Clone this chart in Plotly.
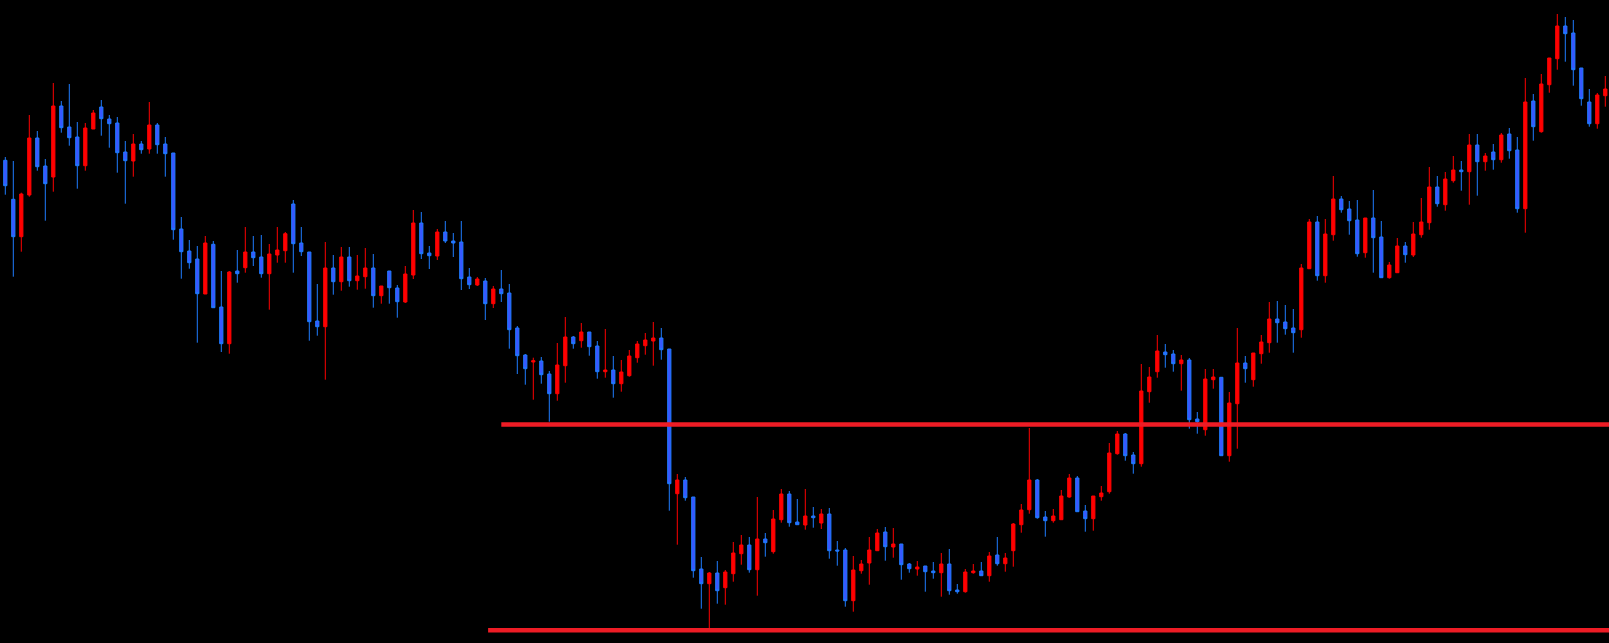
import plotly.graph_objects as go

# Price series (one value per candle)
opens = [482.7, 443.7, 406.3, 448, 505, 477, 466, 537, 516, 506,
         477.3, 514, 536, 524, 520, 491, 482, 499, 494, 518,
         499, 490, 414, 392, 384, 349, 398.7, 336, 299.3, 372,
         375.3, 391, 386, 369.3, 388, 392.3, 439, 400, 391, 322,
         316.3, 375, 361.3, 386, 362.3, 366.3, 375, 347.3, 372, 355,
         341, 368, 420, 390, 387, 411, 402, 401, 366, 358,
         362, 339.3, 354, 350, 315, 288, 281, 282, 269, 249.3,
         277.3, 306, 302.3, 311, 297, 271.3, 273, 259.3, 267.3, 285.3,
         297.3, 302, 305, 294, 149.3, 163, 146, 74, 59.3, 70,
         55.3, 69.3, 89.3, 98, 73.3, 104, 91.3, 123.3, 149, 121,
         118, 127, 120, 129, 93, 93, 42.3, 72.3, 80, 92.3,
         111, 96, 99, 79, 74, 77, 72, 70.3, 79, 53,
         51.3, 70.3, 72, 67.3, 88, 79.3, 92.3, 118.3, 133.3, 163,
         126, 122.3, 123.3, 146, 165, 132, 124.3, 146.3, 151.3, 189.3,
         209, 188, 179.3, 251.3, 271.3, 291, 289, 279.3, 283, 224,
         213.3, 263.3, 265.7, 187.3, 239.3, 280, 263.3, 289.3, 300.3, 324,
         321, 315, 313.3, 374.3, 421, 367.3, 408.3, 444, 434, 423,
         390.3, 425, 406, 365.3, 370.3, 397, 388, 408.3, 420.3, 456,
         438.3, 462.3, 473, 471.3, 498, 481.3, 491, 483.3, 509, 493,
         434.3, 542, 511.3, 558.3, 584.3, 617, 610, 575, 541, 519.3,
         547.3]

highs = [486, 482, 450.3, 528, 512, 484, 560, 542, 559, 521,
         520, 533, 543, 528, 526, 502, 509, 502, 541, 520,
         506, 490, 426, 403, 397, 407, 402, 372, 372, 393,
         416, 407, 408, 399, 416, 411, 443, 416, 391, 359,
         401, 388, 396, 396, 388, 395, 389, 357, 372, 358,
         377, 433, 431, 397, 414, 422, 410, 422, 375, 366,
         365, 357, 373, 359, 317, 289, 285.3, 286, 272, 300,
         326, 307, 320, 311, 302, 314, 287, 283, 293, 302,
         310, 321, 315, 294, 169, 166, 146, 86, 71, 82,
         73, 101, 108, 106, 146, 110, 133, 154, 152, 144,
         154, 136, 134, 135, 102, 95, 87, 83, 106, 114,
         116, 115, 99, 80, 82, 77, 81, 90, 94, 59,
         74, 79, 81, 91, 106, 90, 120, 139, 215, 164,
         132, 134, 153, 169, 167, 138, 147, 157, 200, 212,
         210, 191, 279, 276, 308, 299, 293, 288, 285, 231,
         274, 274, 265.7, 251, 315, 287, 290, 308, 341, 342,
         338, 334, 379, 424, 427, 424, 467, 447, 442, 443,
         425, 453, 422, 381, 405, 401, 421, 445, 476, 467,
         471, 487, 482, 509, 509, 490, 499, 510, 515, 506,
         565, 549, 569, 585, 629, 626, 623, 575, 554, 550,
         567]

lows = [448.3, 366.3, 391.3, 446.3, 472.3, 422.3, 451.3, 510.3, 497.3, 454.3,
        472.3, 514, 507.3, 495.3, 470.3, 439.3, 466.3, 489.3, 489.3, 489.3,
        466.3, 403.3, 364.3, 374.3, 300.3, 349, 335.3, 291, 289.3, 360.3,
        370.3, 377, 365.3, 333.3, 380.3, 380.3, 370.3, 387, 302.3, 307.3,
        263.3, 348.3, 352.3, 356.3, 353.3, 354.3, 335.3, 339.3, 339.3, 325.3,
        340, 364, 384, 374, 383, 400, 386, 353, 354, 357,
        323, 335, 341, 294.3, 269, 258.3, 243.3, 259.3, 221.3, 242.3,
        260.3, 294.3, 295.3, 287.3, 264.3, 265.3, 245.3, 251.3, 266.3, 280.3,
        288.3, 277.3, 283.3, 132.3, 98.3, 142.3, 65.3, 34.3, 14.3, 39.3,
        38.3, 61.3, 78.3, 70.3, 47.3, 86.3, 89.3, 120.3, 116.3, 118.3,
        113.3, 115.3, 114, 84.3, 77.3, 36.3, 31.3, 69.3, 58.3, 92.3,
        82.3, 85.3, 63.3, 70.3, 67.3, 51.3, 64.3, 46.3, 48.3, 49.3,
        50.3, 69.3, 67.3, 61.3, 77.3, 71.3, 76.3, 110.3, 129.3, 124.3,
        106.3, 120.3, 123.3, 145.3, 131.3, 111.3, 112.3, 142.3, 149.3, 188.3,
        182.3, 169.3, 176.3, 240.3, 265.3, 275.3, 271.3, 252.3, 214.3, 209.3,
        207.3, 254.3, 187.3, 181.3, 194.3, 260.3, 256.3, 279.3, 290.3, 300.3,
        308.3, 290.3, 305.3, 374.3, 362.3, 360.3, 402.3, 430.3, 408.3, 386.3,
        385.3, 370.3, 365.3, 364.3, 370.3, 380.3, 386, 405.3, 413.3, 436.3,
        432.3, 460.3, 452.3, 438.3, 447.3, 472.3, 473.3, 480.3, 484.3, 430.3,
        410.3, 502.3, 510.3, 550.3, 573.3, 581.3, 557.3, 537.3, 516.3, 514.3,
        536.3]

closes = [457.3, 406.3, 449, 505, 476.3, 459.3, 537, 515.3, 505.3, 477.3,
          515, 530, 524.3, 519.3, 490.3, 482.3, 499, 493.3, 518, 498.3,
          489.3, 413.3, 391.3, 380.3, 349.3, 400, 335.3, 299.3, 371, 369.3,
          391, 385.3, 369.3, 389, 393, 409.3, 399.3, 391.3, 321.3, 316.3,
          375, 361.3, 386, 362.3, 367, 375, 347.3, 357, 355.3, 341.3,
          369, 420, 389.3, 387.3, 411, 402, 400, 364.3, 358.3, 364,
          339.3, 354, 349.3, 313.3, 287.3, 274.3, 282.3, 268.3, 249.3, 278,
          306, 299.3, 311, 296.3, 271.3, 273, 259.3, 271, 287, 299,
          303, 305, 293.3, 159.3, 163, 145.3, 72.3, 59.3, 70, 52.3,
          71, 90, 98, 73.3, 104, 100.3, 124, 149, 120.3, 118.3,
          127, 125.3, 129, 92.3, 92, 42.3, 73, 79, 93, 110,
          96.3, 99, 78.3, 74.3, 76, 71.3, 70.3, 79, 52.3, 51.3,
          71, 72, 67.3, 87, 79.3, 85, 119, 133, 163, 125.3,
          122.3, 127, 147, 165, 131.3, 124.3, 147, 150, 190, 209,
          187.3, 179.3, 252, 266, 292, 288.3, 279.3, 283, 223.3, 221.3,
          264, 266, 187.3, 240, 280, 274.3, 290, 301, 324, 320.3,
          314.3, 310.3, 375, 421, 367.3, 409, 444, 433.3, 422.3, 389.3,
          425, 405.3, 365.3, 378, 397, 388.3, 409, 421, 456, 439.3,
          464, 473, 471.3, 498, 481.3, 487, 483.3, 508, 492.3, 434.3,
          541, 516.3, 559, 585, 617, 609.3, 573.3, 544.3, 519.3, 548,
          554]

candle_index = list(range(len(opens)))

# Horizontal levels (price) and the candle index where each starts
level_prices = [218.5, 12.8]
level_starts = [62, 60.35]

fig = go.Figure()
fig.add_trace(go.Candlestick(
    x=candle_index, open=opens, high=highs, low=lows, close=closes,
    increasing=dict(line=dict(color="#ff0000", width=1), fillcolor="#ff0000"),
    decreasing=dict(line=dict(color="#1e7cff", width=1), fillcolor="#3a55ff"),
    whiskerwidth=0,
    showlegend=False,
))

for lp, ls in zip(level_prices, level_starts):
    fig.add_shape(type="line", xref="x", yref="y",
                  x0=ls, x1=len(opens) + 2, y0=lp, y1=lp,
                  line=dict(color="#ee1c25", width=4.5), layer="above")

fig.update_layout(
    width=1609, height=643,
    margin=dict(l=0, r=0, t=0, b=0),
    paper_bgcolor="black", plot_bgcolor="black",
    showlegend=False,
    boxgap=0.42,
    xaxis=dict(range=[-0.6625, 200.4625], visible=False, showgrid=False,
               zeroline=False, rangeslider=dict(visible=False), fixedrange=True),
    yaxis=dict(range=[0, 643], visible=False, showgrid=False, zeroline=False,
               fixedrange=True),
)

fig.write_html("out.html", config={"displayModeBar": False},
               post_script="document.body.style.margin='0';document.body.style.overflow='hidden';")
